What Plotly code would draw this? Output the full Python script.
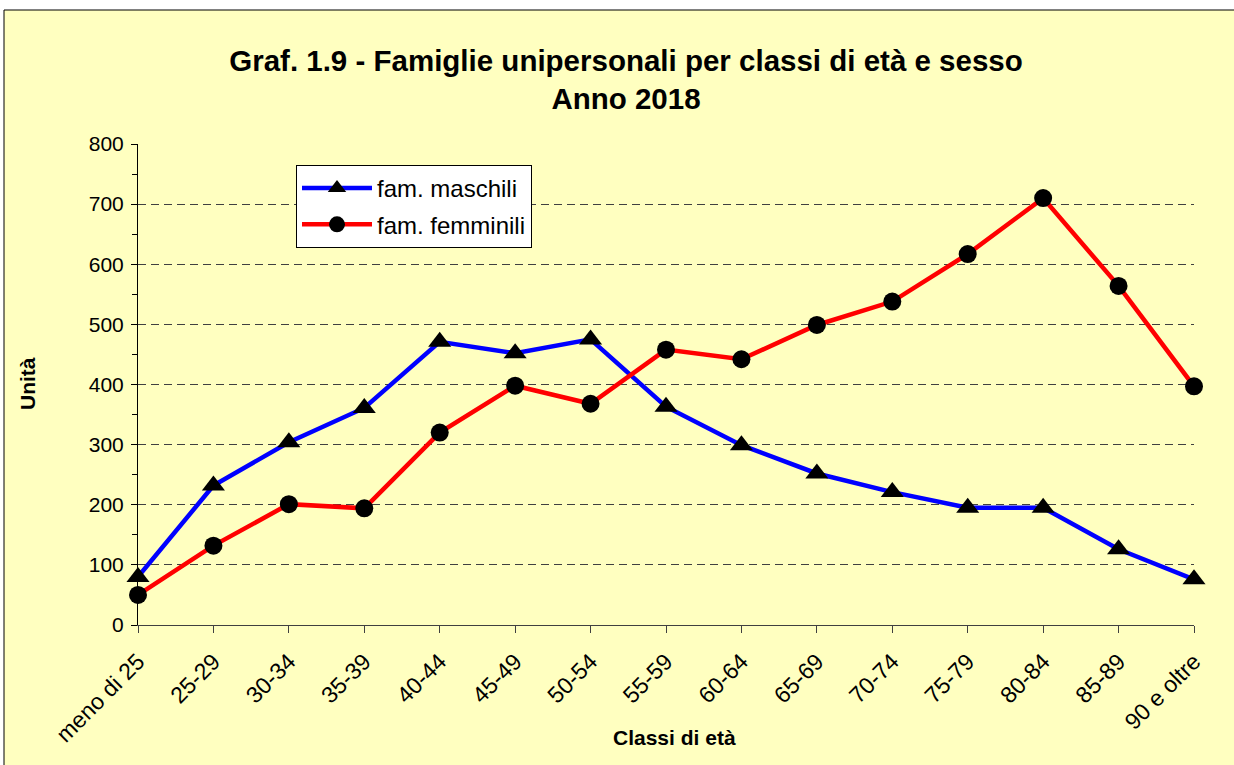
import plotly.graph_objects as go

categories = ["meno di 25", "25-29", "30-34", "35-39", "40-44", "45-49", "50-54",
              "55-59", "60-64", "65-69", "70-74", "75-79", "80-84", "85-89", "90 e oltre"]
maschi = [80, 232, 304, 361, 471, 452, 475, 363, 299, 252, 221, 195, 195, 126, 76]
femmine = [50, 132, 201, 194, 320, 398, 368, 458, 442, 499, 538, 617, 710, 564, 397]
y_ticks = [0, 100, 200, 300, 400, 500, 600, 700, 800]

FONT = "Arial, Liberation Sans, sans-serif"
W, H = 1234, 765
L, R, T, B = 138, 40, 144, 140
pw, ph = W - L - R, H - T - B

def px_x(p):
    return (p - L) / pw

def px_y(p):
    return (H - B - p) / ph

fig = go.Figure()
fig.add_trace(go.Scatter(
    x=categories, y=maschi, name="fam. maschili", mode="lines+markers",
    line=dict(color="#0000FF", width=4.5),
    marker=dict(symbol="triangle-up", size=20, color="black"),
    cliponaxis=False, legendgroup="m"))
fig.add_trace(go.Scatter(
    x=categories, y=femmine, name="fam. femminili", mode="lines+markers",
    line=dict(color="#FF0000", width=4.5),
    marker=dict(symbol="circle", size=18, color="black"),
    cliponaxis=False, legendgroup="f"))

fig.update_layout(
    width=W, height=H,
    margin=dict(l=L, r=R, t=T, b=B),
    paper_bgcolor="white",
    plot_bgcolor="rgba(0,0,0,0)",
    font=dict(family=FONT, color="black", size=21),
    title=dict(
        text="<b>Graf. 1.9 - Famiglie unipersonali per classi di età e sesso<br>Anno 2018</b>",
        font=dict(family=FONT, size=29.5, color="black"),
        x=626 / W, xanchor="center", xref="container",
        y=1 - 71 / H, yanchor="middle", yref="container"),
    showlegend=True,
    legend=dict(
        x=px_x(296), y=px_y(165), xanchor="left", yanchor="top",
        bgcolor="white", bordercolor="black", borderwidth=1,
        font=dict(family=FONT, size=24, color="black"),
        tracegroupgap=2, itemwidth=70),
    xaxis=dict(
        type="category", range=[0, len(categories) - 1],
        showgrid=False, showline=True, linecolor="#404040", linewidth=1,
        ticks="outside", ticklen=7, tickcolor="#404040",
        tickangle=-45, ticklabelstandoff=6,
        tickfont=dict(family=FONT, size=23, color="black"),
        zeroline=False),
    yaxis=dict(
        range=[0, 800], tickvals=y_ticks,
        showgrid=True, gridcolor="#404040", griddash="8px,5px", gridwidth=1,
        showline=True, linecolor="black", linewidth=1,
        ticks="outside", ticklen=6, tickcolor="black", ticklabelstandoff=3,
        minor=dict(dtick=50, ticks="outside", ticklen=5, tickcolor="black", showgrid=False),
        tickfont=dict(family=FONT, size=21, color="black"),
        zeroline=False),
    shapes=[dict(
        type="rect", xref="paper", yref="paper", layer="below",
        x0=px_x(4), x1=px_x(W + 20), y0=px_y(H + 20), y1=px_y(10),
        fillcolor="#FFFFC0", line=dict(color="black", width=1))],
    annotations=[
        dict(text="<b>Unità</b>", xref="paper", yref="paper",
             x=px_x(27), y=px_y(384), xanchor="center", yanchor="middle",
             textangle=-90, showarrow=False,
             font=dict(family=FONT, size=21, color="black")),
        dict(text="<b>Classi di età</b>", xref="paper", yref="paper",
             x=px_x(674), y=px_y(737), xanchor="center", yanchor="middle",
             showarrow=False, font=dict(family=FONT, size=21, color="black")),
    ],
)

fig.write_html("out.html", config={"displayModeBar": False},
               post_script="document.body.style.margin='0px';")
